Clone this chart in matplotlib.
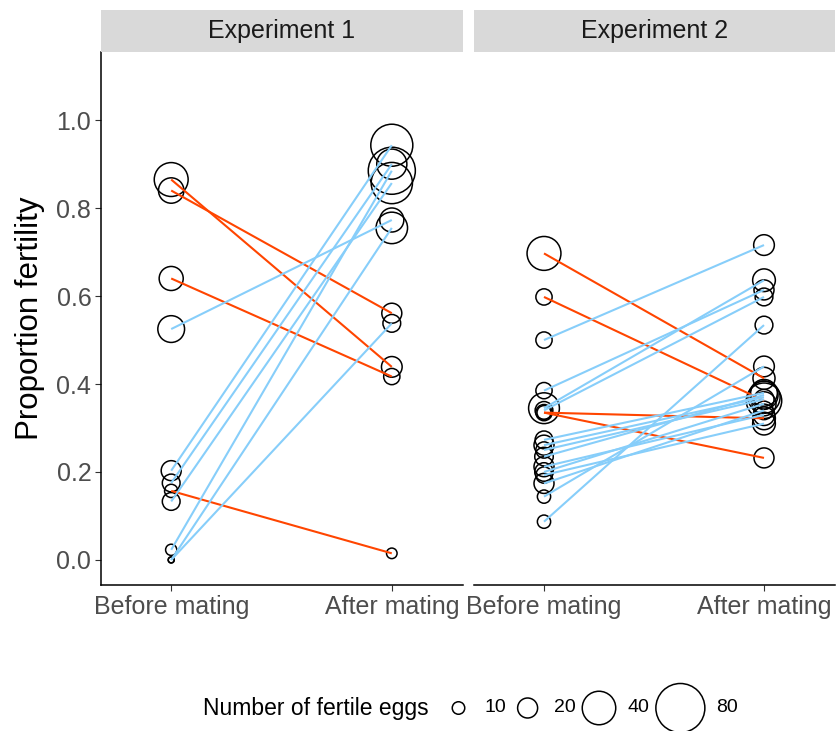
import numpy as np
import matplotlib.pyplot as plt
from matplotlib.patches import Rectangle

plt.rcParams['font.family'] = ['Liberation Sans', 'DejaVu Sans']

# ---- data: proportion fertility and number of fertile eggs per female ----
timepoints = ["Before mating", "After mating"]
panel_titles = ["Experiment 1", "Experiment 2"]

exp1_before = [0.865, 0.840, 0.640, 0.525, 0.203, 0.175, 0.157, 0.133, 0.023, 0.0, 0.0]
exp1_after = [0.439, 0.561, 0.417, 0.773, 0.943, 0.900, 0.015, 0.857, 0.885, 0.755, 0.538]
exp1_eggs_before = [41, 28, 26, 30, 20, 17, 11, 17, 8, 0, 0]
exp1_eggs_after = [21, 20, 15, 26, 62, 35, 7, 60, 75, 37, 17]

exp2_before = [0.697, 0.598, 0.500, 0.385, 0.345, 0.340, 0.335, 0.335, 0.273, 0.261,
               0.250, 0.235, 0.212, 0.200, 0.193, 0.174, 0.144, 0.087]
exp2_after = [0.413, 0.362, 0.716, 0.614, 0.636, 0.598, 0.322, 0.232, 0.380, 0.370,
              0.365, 0.375, 0.330, 0.355, 0.310, 0.340, 0.440, 0.534]
exp2_eggs_before = [41, 15, 15, 15, 36, 17, 15, 12, 17, 20, 15, 18, 20, 18, 15, 20, 11, 11]
exp2_eggs_after = [23, 45, 21, 20, 24, 17, 24, 20, 30, 38, 20, 32, 22, 26, 24, 18, 21, 17]

legend_eggs = [10, 20, 40, 80]

# size scale: number of eggs -> marker diameter (pixels at 100 dpi)
scale_n = [0, 10, 20, 40, 80]
scale_d = [6.0, 12.5, 20.0, 33.5, 49.0]

DPI = 100
UP_COLOR = "#87CEFA"
DOWN_COLOR = "#FF4500"


def diameter_px(n):
    return np.interp(n, scale_n, scale_d)


def marker_area(n):
    return (diameter_px(np.asarray(n, dtype=float)) * 72.0 / DPI) ** 2


fig = plt.figure(figsize=(8.36, 7.31), dpi=DPI)
W, H = 836.0, 731.0

panels = [
    (exp1_before, exp1_after, exp1_eggs_before, exp1_eggs_after),
    (exp2_before, exp2_after, exp2_eggs_before, exp2_eggs_after),
]
lefts = [101, 474]
widths = [362, 361]
top, bottom, strip_top = 52, 585, 10

for i, (before, after, eb, ea) in enumerate(panels):
    ax = fig.add_axes([lefts[i] / W, 1 - bottom / H, widths[i] / W, (bottom - top) / H])
    x = np.array([1, 2])

    # hollow circles sized by egg count
    ax.scatter(np.ones(len(before)), before, s=marker_area(eb), facecolors="none",
               edgecolors="black", linewidths=1.1, zorder=2)
    ax.scatter(np.full(len(after), 2), after, s=marker_area(ea), facecolors="none",
               edgecolors="black", linewidths=1.1, zorder=2)

    # one line per female, coloured by direction of change
    for b, a in zip(before, after):
        col = UP_COLOR if a > b else DOWN_COLOR
        ax.plot(x, [b, a], color=col, lw=1.5, zorder=3, solid_capstyle="butt")

    ax.set_xlim(1 - 70 / 220, 2 + 71 / 220)
    ax.set_ylim(-0.057, 1.155)
    ax.set_xticks(x)
    ax.set_xticklabels(timepoints)
    ax.set_yticks(np.arange(0, 1.01, 0.2))
    ax.set_yticklabels([f"{v:.1f}" for v in np.arange(0, 1.01, 0.2)])

    for s in ["top", "right"]:
        ax.spines[s].set_visible(False)
    ax.spines["bottom"].set_linewidth(1.1)
    ax.spines["left"].set_linewidth(1.1)
    ax.tick_params(axis="both", labelsize=18, labelcolor="#4D4D4D", color="#333333",
                   length=4, width=0.8, pad=3)
    if i == 0:
        ax.set_ylabel("Proportion fertility", fontsize=22.5, labelpad=8)
    else:
        ax.spines["left"].set_visible(False)
        ax.tick_params(axis="y", left=False, labelleft=False)

    # facet strip
    sax = fig.add_axes([lefts[i] / W, 1 - top / H, widths[i] / W, (top - strip_top) / H])
    sax.add_patch(Rectangle((0, 0), 1, 1, facecolor="#D9D9D9", edgecolor="none",
                            transform=sax.transAxes))
    sax.text(0.5, 0.5, panel_titles[i], ha="center", va="center", fontsize=18,
             color="#1A1A1A", transform=sax.transAxes)
    sax.set_axis_off()

# size legend along the bottom, laid out in pixel units
lax = fig.add_axes([0, 0, 1, 1], zorder=5)
lax.set_xlim(0, W)
lax.set_ylim(H, 0)
lax.set_axis_off()

legend_y = 708
label_fs = 14
lax.text(203, legend_y + 1, "Number of fertile eggs", ha="left", va="center",
         fontsize=16.5)
cursor = 437.0
for n in legend_eggs:
    d = diameter_px(n)
    key_w = max(43.0, d + 14.0)
    cx = cursor + key_w / 2
    lax.scatter([cx], [legend_y], s=marker_area(n), facecolors="none",
                edgecolors="black", linewidths=1.1)
    label = str(n)
    lax.text(cursor + key_w + 4.5, legend_y, label, ha="left", va="center",
             fontsize=label_fs)
    label_w = len(label) * 0.556 * label_fs * DPI / 72.0
    cursor += key_w + 4.5 + label_w

fig.savefig("out.png", dpi=DPI)
